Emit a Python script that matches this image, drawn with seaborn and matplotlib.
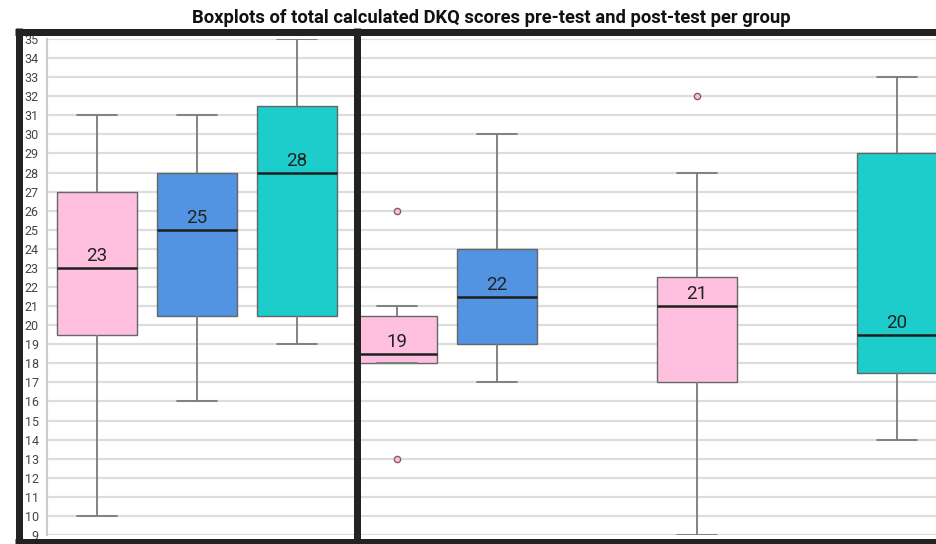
import numpy as np
import pandas as pd
import matplotlib
matplotlib.use("Agg")
import matplotlib.pyplot as plt
from matplotlib.lines import Line2D
import seaborn as sns

# slots along the x axis (some are empty in the picture)
SLOTS = ["Pre A", "Pre B", "Pre C", "Post A", "Post B", "Post C", "Post A2", "Post B2", "Post C2"]

# one entry per drawn box
box_slots = ["Pre A", "Pre B", "Pre C", "Post A", "Post B", "Post A2", "Post C2"]
box_groups = ["A", "B", "C", "A", "B", "A", "C"]
whisker_low = [10, 16, 19, 18, 17, 9, 14]
q1 = [19.5, 20.5, 20.5, 18, 19, 17, 17.5]
median = [23, 25, 28, 18.5, 21.5, 21, 19.5]
q3 = [27, 28, 31.5, 20.5, 24, 22.5, 29]
whisker_high = [31, 31, 35, 21, 30, 28, 33]
median_labels = ["23", "25", "28", "19", "22", "21", "20"]

# outliers
outlier_slots = ["Post A", "Post A", "Post A2"]
outlier_values = [26, 13, 32]

PALETTE = {"A": "#FFC0E0", "B": "#5294E2", "C": "#1CCDCB"}

rows = []
for s, g, lo, a, m, b, hi in zip(box_slots, box_groups, whisker_low, q1, median, q3, whisker_high):
    for v in (lo, a, m, b, hi):
        rows.append({"slot": s, "group": g, "score": v})
df = pd.DataFrame(rows)
df_out = pd.DataFrame({"slot": outlier_slots, "score": outlier_values})

sns.set_style("white")
plt.rcParams["font.family"] = ["Roboto", "DejaVu Sans"]

W, H = 936, 544
fig = plt.figure(figsize=(W / 100, H / 100), dpi=100)
ax = fig.add_axes([47 / W, (H - 535) / H, (W - 47) / W, (535 - 39) / H])

sns.boxplot(data=df, x="slot", y="score", hue="group", order=SLOTS, palette=PALETTE,
            saturation=1, dodge=False, width=0.8, whis=(0, 100), legend=False, ax=ax,
            boxprops=dict(edgecolor="#666666", linewidth=1.0),
            whiskerprops=dict(color="#7a7a7a", linewidth=1.3),
            capprops=dict(color="#7a7a7a", linewidth=1.3),
            medianprops=dict(color="#1e1e1e", linewidth=1.8))

sns.stripplot(data=df_out, x="slot", y="score", order=SLOTS, jitter=False,
              color="#FFC0E0", edgecolor="#8a5a70", linewidth=1.0, size=4.5, ax=ax, zorder=5)

for s, m, lab in zip(box_slots, median, median_labels):
    ax.annotate(lab, (SLOTS.index(s), m), xytext=(0, 5), textcoords="offset points",
                ha="center", va="baseline", fontsize=13.5, color="#222222")

ax.set_xlim(-0.5, (W - 47) / 100 - 0.5)
ax.set_ylim(9, 35)
ax.set_yticks(range(9, 36))
ax.set_xticks([])
ax.set_xlabel("")
ax.set_ylabel("")
ax.grid(axis="y", color="#dddddd", linewidth=1.6)
ax.set_axisbelow(True)
for side in ["top", "right", "bottom"]:
    ax.spines[side].set_visible(False)
ax.spines["left"].set_color("#cccccc")
ax.spines["left"].set_linewidth(1.5)
ax.tick_params(axis="y", labelsize=9, labelcolor="#444444", length=3, color="#cccccc", pad=3)

# dark frames around the two halves
lw = 7 * 72 / 100
def fline(x0, y0, x1, y1):
    fig.add_artist(Line2D([x0 / W, x1 / W], [1 - y0 / H, 1 - y1 / H], color="#222222",
                          linewidth=lw, solid_capstyle="butt", zorder=10))
fline(15, 31.5, W, 31.5)
fline(15, 541.5, W, 541.5)
fline(18.5, 28, 18.5, H)
fline(357, 28, 357, H)

fig.suptitle("Boxplots of total calculated DKQ scores pre-test and post-test per group",
             x=491 / W, y=1 - 18 / H, va="center", fontsize=13.2, fontweight="bold", color="#111111")

plt.savefig("out.png", dpi=100)
